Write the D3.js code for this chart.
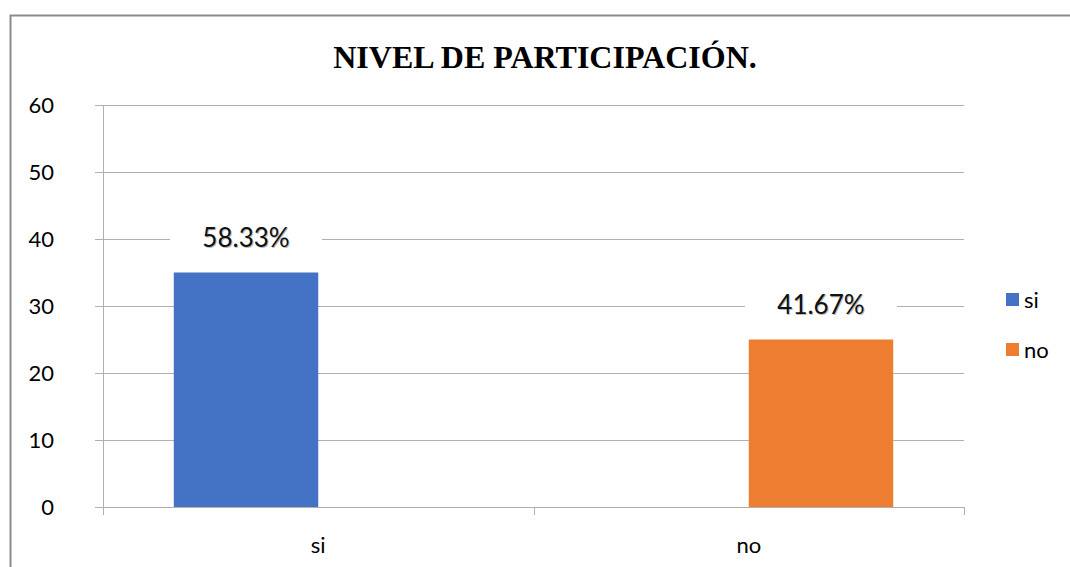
<!DOCTYPE html>
<meta charset="utf-8">
<head>
<style>
  body { margin: 0; background: #fff; }
  text { font-family: Lato, "Open Sans", sans-serif; }
</style>
</head>
<script src="https://d3js.org/d3.v7.min.js"></script>
<body>
<div id="my_dataviz"></div>
<script>
// data
var categories = ["si", "no"];
var series = ["si", "no"];
var siValues = [35, null];
var noValues = [null, 25];
var pctLabels = ["58.33%", "41.67%"];
var yTicks = [0, 10, 20, 30, 40, 50, 60];
var colors = ["#4472C4", "#ED7D31"];

var W = 1070, H = 567;
var margin = {top: 105, right: 106, bottom: 60, left: 103},
    width = W - margin.left - margin.right,
    height = H - margin.top - margin.bottom;

var svgRoot = d3.select("#my_dataviz")
  .append("svg")
    .attr("width", W)
    .attr("height", H);

// outer chart border
svgRoot.append("rect")
  .attr("x", 10.5).attr("y", 15.5)
  .attr("width", W + 20).attr("height", H + 20)
  .attr("fill", "none")
  .attr("stroke", "#8c8c8c")
  .attr("stroke-width", 2);

svgRoot.append("text")
  .attr("x", 545).attr("y", 68)
  .attr("text-anchor", "middle")
  .style("font-family", "'Liberation Serif', 'Times New Roman', serif")
  .style("font-weight", "bold")
  .style("font-size", "32px")
  .text("NIVEL DE PARTICIPACIÓN.");

var svg = svgRoot.append("g")
  .attr("transform", "translate(" + margin.left + "," + margin.top + ")");

var x0 = d3.scaleBand().domain(categories).range([0, width]).padding(0);
var x1 = d3.scaleBand().domain(series).range([0, x0.bandwidth()])
  .paddingInner(0).paddingOuter(0.49);
var y = d3.scaleLinear().domain([0, 60]).range([height, 0]);

var gridColor = "#b0b0b0";

// gridlines + y labels
svg.selectAll(".grid")
  .data(yTicks)
  .enter().append("line")
    .attr("x1", -8).attr("x2", width)
    .attr("y1", function(d) { return Math.round(y(d)) + 0.5; })
    .attr("y2", function(d) { return Math.round(y(d)) + 0.5; })
    .attr("stroke", gridColor);

svg.selectAll(".ylab")
  .data(yTicks)
  .enter().append("text")
    .attr("x", -49)
    .attr("y", function(d) { return y(d); })
    .attr("dy", "0.35em")
    .attr("text-anchor", "end")
    .style("font-size", "22px")
    .text(function(d) { return d; });

// y axis line
svg.append("line")
  .attr("x1", 0.5).attr("x2", 0.5)
  .attr("y1", 0).attr("y2", height + 8)
  .attr("stroke", gridColor);

// x ticks at category boundaries
var bounds = categories.map(function(c) { return x0(c); }).concat([width]);
svg.selectAll(".xtick")
  .data(bounds)
  .enter().append("line")
    .attr("x1", function(d) { return Math.round(d) + 0.5; })
    .attr("x2", function(d) { return Math.round(d) + 0.5; })
    .attr("y1", height).attr("y2", height + 8)
    .attr("stroke", gridColor);

// x labels
svg.selectAll(".xlab")
  .data(categories)
  .enter().append("text")
    .attr("x", function(d) { return x0(d) + x0.bandwidth() / 2; })
    .attr("y", height + 46)
    .attr("text-anchor", "middle")
    .style("font-size", "22px")
    .text(function(d) { return d; });

// bars
var rows = categories.map(function(c, i) {
  return {cat: c, values: [siValues[i], noValues[i]], label: pctLabels[i]};
});

rows.forEach(function(r) {
  r.values.forEach(function(v, j) {
    if (v == null) return;
    var bx = x0(r.cat) + x1(series[j]);
    svg.append("rect")
      .attr("x", bx)
      .attr("y", y(v))
      .attr("width", x1.bandwidth())
      .attr("height", height - y(v))
      .attr("fill", colors[j]);

    // data label with white box
    var cx = bx + x1.bandwidth() / 2;
    var ly = y(v) - 35;
    svg.append("rect")
      .attr("x", cx - 76).attr("y", ly - 16)
      .attr("width", 152).attr("height", 32)
      .attr("fill", "#fff");
    svg.append("text")
      .attr("x", cx + 1).attr("y", ly + 1)
      .attr("dy", "0.35em")
      .attr("text-anchor", "middle")
      .style("font-size", "26px")
      .attr("fill", "#bbb")
      .text(r.label);
    svg.append("text")
      .attr("x", cx).attr("y", ly)
      .attr("dy", "0.35em")
      .attr("text-anchor", "middle")
      .style("font-size", "26px")
      .attr("fill", "#111")
      .text(r.label);
  });
});

// legend
var legend = svgRoot.selectAll(".legend")
  .data(series)
  .enter().append("g")
    .attr("transform", function(d, i) { return "translate(1006," + (293 + i * 50) + ")"; });
legend.append("rect")
  .attr("width", 13).attr("height", 13)
  .attr("fill", function(d, i) { return colors[i]; });
legend.append("text")
  .attr("x", 18).attr("y", 7)
  .attr("dy", "0.35em")
  .style("font-size", "22px")
  .text(function(d) { return d; });
</script>
</body>
